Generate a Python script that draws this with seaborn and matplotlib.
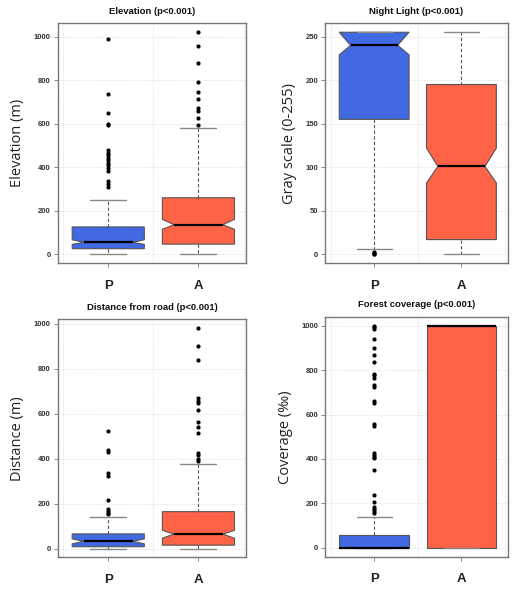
import matplotlib
matplotlib.use('Agg')
import matplotlib.pyplot as plt
import seaborn as sns
import numpy as np

# --- data (summary statistics per group) ---
groups = ["P", "A"]
colors = ["#4169E1", "#FF6347"]

titles = ["Elevation (p<0.001)", "Night Light (p<0.001)",
          "Distance from road (p<0.001)", "Forest coverage (p<0.001)"]
ylabels = ["Elevation (m)", "Gray scale (0-255)", "Distance (m)", "Coverage (‰)"]
yticks = [[0, 200, 400, 600, 800, 1000], [0, 50, 100, 150, 200, 250],
          [0, 200, 400, 600, 800, 1000], [0, 200, 400, 600, 800, 1000]]
ylims = [(-41, 1061), (-10.2, 265.2), (-39, 1019), (-40, 1040)]
notched = [True, True, True, False]

# elevation
elev_q1 = [26, 47]
elev_med = [55, 136]
elev_q3 = [126, 260]
elev_lo = [3, 3]
elev_hi = [251, 580]
elev_ci = [(46, 67), (115, 161)]
elev_fliers_P = [990, 738, 649, 598, 592, 479, 466, 455, 443, 432, 420, 410, 398,
                 382, 335, 322, 311]
elev_fliers_A = [1021, 959, 879, 792, 746, 715, 672, 660, 625, 594]

# night light
night_q1 = [155, 17]
night_med = [240, 101]
night_q3 = [255, 195]
night_lo = [6, 0]
night_hi = [255, 255]
night_ci = [(229, 255), (82, 122)]
night_fliers_P = [0, 1, 2, 3]
night_fliers_A = []

# distance from road
dist_q1 = [8, 15]
dist_med = [32, 64]
dist_q3 = [65, 164]
dist_lo = [0, 0]
dist_hi = [141, 377]
dist_ci = [(21, 43), (46, 81)]
dist_fliers_P = [524, 438, 429, 335, 322, 214, 174, 165, 158, 152]
dist_fliers_A = [982, 902, 837, 669, 657, 648, 617, 564, 539, 512, 425, 416, 397, 390]

# forest coverage
forest_q1 = [0, 0]
forest_med = [0, 1000]
forest_q3 = [60, 1000]
forest_lo = [0, 0]
forest_hi = [138, 1000]
forest_ci = [(0, 0), (1000, 1000)]
forest_fliers_P = [1000, 993, 985, 938, 900, 870, 837, 784, 777, 766, 731, 722, 660,
                   653, 556, 547, 427, 419, 410, 403, 350, 238, 208, 184, 174, 165, 157]
forest_fliers_A = []

panels = [
    (elev_q1, elev_med, elev_q3, elev_lo, elev_hi, elev_ci, [elev_fliers_P, elev_fliers_A]),
    (night_q1, night_med, night_q3, night_lo, night_hi, night_ci, [night_fliers_P, night_fliers_A]),
    (dist_q1, dist_med, dist_q3, dist_lo, dist_hi, dist_ci, [dist_fliers_P, dist_fliers_A]),
    (forest_q1, forest_med, forest_q3, forest_lo, forest_hi, forest_ci, [forest_fliers_P, forest_fliers_A]),
]

sns.set_theme(style="white")
plt.rcParams['font.family'] = ['Liberation Sans', 'DejaVu Sans']

fig = plt.figure(figsize=(5.25, 5.91), dpi=100)
positions = [
    [0.110, 0.5545, 0.359, 0.406],
    [0.6196, 0.5545, 0.3474, 0.406],
    [0.110, 0.057, 0.359, 0.4027],
    [0.6196, 0.058, 0.3474, 0.406],
]
box_w = 0.8
notch_half = 0.27  # half-width of the box at the median, R-style shallow notch

for k, (q1, med, q3, lo, hi, ci, fliers) in enumerate(panels):
    ax = fig.add_axes(positions[k])
    stats = []
    for i in range(2):
        stats.append(dict(label=groups[i], q1=q1[i], med=med[i], q3=q3[i],
                          whislo=lo[i], whishi=hi[i], cilo=ci[i][0], cihi=ci[i][1],
                          fliers=np.array(fliers[i], dtype=float)))
    bp = ax.bxp(stats, positions=[1, 2], widths=box_w, patch_artist=True,
                shownotches=notched[k],
                boxprops=dict(edgecolor="#555555", linewidth=0.8),
                medianprops=dict(color="black", linewidth=1.6),
                whiskerprops=dict(color="#555555", linestyle=(0, (3, 2)), linewidth=0.8),
                capprops=dict(color="#888888", linewidth=1.0),
                capwidths=0.4,
                flierprops=dict(marker="o", markersize=2.0, markerfacecolor="black",
                                markeredgecolor="black"))
    for i, (patch, c) in enumerate(zip(bp["boxes"], colors)):
        patch.set_facecolor(c)
        if notched[k]:
            pos = i + 1
            verts = patch.get_path().vertices
            inner = np.abs(verts[:, 0] - pos) < box_w / 2 - 1e-6
            verts[inner, 0] = pos + np.sign(verts[inner, 0] - pos) * notch_half
            bp["medians"][i].set_xdata([pos - notch_half, pos + notch_half])
    ax.set_xlim(0.44, 2.53)
    ax.set_ylim(*ylims[k])
    ax.set_yticks(yticks[k])
    ax.set_xticks([1, 2])
    ax.set_xticklabels(groups, fontsize=9.5, fontweight="bold", color="#222222")
    ax.tick_params(axis="x", length=3, width=0.6, color="#777777", pad=9, bottom=True)
    ax.tick_params(axis="y", labelsize=5.5, length=3, width=0.6, color="#777777",
                   labelcolor="#333333", left=True, pad=2)
    for t in ax.get_yticklabels():
        t.set_fontweight("bold")
    # dotted grid
    for gx in [0.5, 1.5, 2.5]:
        ax.axvline(gx, color="#d8d8d8", linestyle=(0, (1, 1.5)), linewidth=0.6, zorder=0)
    for gy in yticks[k]:
        ax.axhline(gy, color="#d8d8d8", linestyle=(0, (1, 1.5)), linewidth=0.6, zorder=0)
    for s in ax.spines.values():
        s.set_color("#777777")
        s.set_linewidth(1.0)
    ax.set_title(titles[k], fontsize=6.8, fontweight="bold", pad=7, color="#111111")
    ax.set_ylabel(ylabels[k], fontsize=10.5, family=["Open Sans", "DejaVu Sans"],
                  color="#222222", labelpad=6)

fig.savefig("out.png", dpi=100)
